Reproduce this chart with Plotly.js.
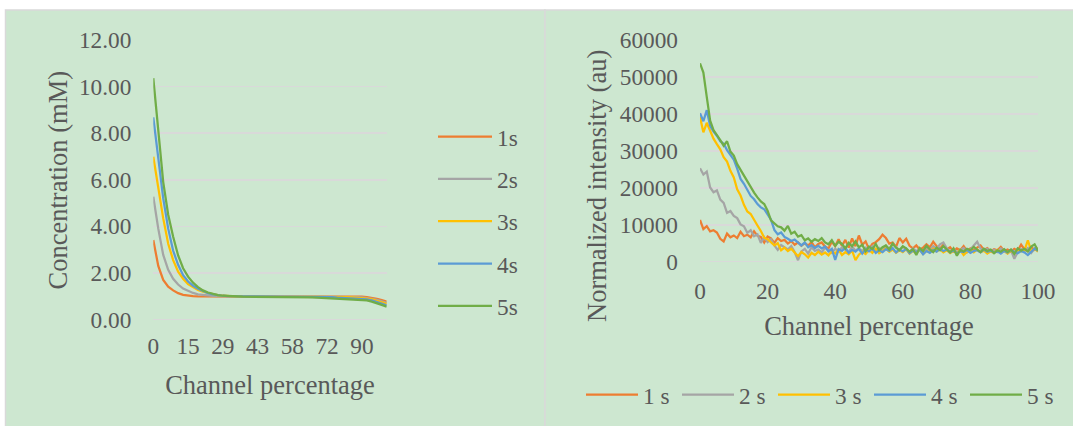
<!DOCTYPE html>
<html>
<head>
<meta charset="utf-8">
<script src="https://cdn.plot.ly/plotly-3.0.1.min.js"></script>
<style>
html,body{margin:0;padding:0;background:#ffffff;}
#chart{width:1073px;height:426px;}
</style>
</head>
<body>
<div id="chart"></div>
<script>
// ---------- Left chart: concentration profiles (category axis) ----------
const channelPctLeft = ['0','2','4','6','9','11','13','15','17','19','21','23','25','27','29','31','33','35','37','39','41','43','45','47','49','52','54','56','58','60','62','64','66','68','70','72','75','77','80','82','85','87','90','92','94','96','98','100'];
const leftTickLabels = ['0','15','29','43','58','72','90'];
const seriesNamesLeft = ['1s','2s','3s','4s','5s'];

const conc1s = [3.41,2.30,1.70,1.41,1.25,1.13,1.06,1.02,1.00,
  0.99,0.99,0.99,0.99,0.99,0.99,0.99,0.99,0.99,0.99,0.99,0.99,0.99,0.99,0.99,0.99,0.99,0.99,0.99,0.99,0.99,0.99,0.99,0.99,0.99,0.99,0.99,0.99,
  1.00,1.00,1.00,1.00,
  0.99,0.98,0.96,0.93,0.89,0.83,0.77];
const conc2s = [5.27,3.90,2.77,2.13,1.75,1.50,1.33,1.22,1.14,1.08,1.05,1.03,1.01,1.00,
  0.99,0.99,0.99,0.99,0.99,0.99,0.99,0.99,0.99,0.99,0.99,0.99,0.99,0.99,0.99,0.99,
  0.98,0.98,0.98,0.98,0.98,0.98,0.98,0.98,
  0.97,0.97,0.96,0.96,0.95,0.93,0.89,0.84,0.78,0.72];
const conc3s = [6.99,5.60,4.34,3.25,2.55,2.05,1.75,1.52,1.38,1.27,1.19,1.13,1.09,1.05,1.02,1.00,
  0.99,0.99,0.99,0.99,0.99,0.99,0.99,0.99,0.99,
  0.98,0.98,0.98,0.98,0.98,0.98,0.98,
  0.97,0.97,0.97,0.97,0.97,
  0.96,0.96,0.96,
  0.95,0.94,0.92,0.90,0.86,0.81,0.74,0.67];
const conc4s = [8.68,6.90,5.20,3.90,2.95,2.35,1.90,1.63,1.45,1.32,1.21,1.13,1.08,1.04,1.02,1.00,
  0.99,0.99,0.99,0.99,0.99,0.99,
  0.98,0.98,0.98,0.98,0.98,0.98,
  0.97,0.97,0.97,0.97,0.97,
  0.96,0.96,0.96,0.96,
  0.94,0.93,0.92,0.91,0.90,0.89,0.86,0.82,0.76,0.69,0.61];
const conc5s = [10.36,8.00,5.90,4.50,3.55,2.75,2.20,1.84,1.58,1.39,1.25,1.16,1.10,1.05,1.02,1.00,
  0.99,0.99,0.98,0.98,0.98,
  0.97,0.97,0.97,0.97,0.97,
  0.96,0.96,0.96,0.96,
  0.95,0.95,0.95,
  0.94,0.93,0.92,
  0.91,0.91,0.90,0.89,
  0.88,0.87,0.85,0.82,0.77,0.71,0.63,0.55];

// ---------- Right chart: normalized intensity ----------
const channelPctRight = [0,1,2,3,4,5,6,7,8,9,10,11,12,13,14,15,16,17,18,19,20,21,22,23,24,25,26,27,28,29,30,31,32,33,34,35,36,37,38,39,40,41,42,43,44,45,46,47,48,49,50,51,52,53,54,55,56,57,58,59,60,61,62,63,64,65,66,67,68,69,70,71,72,73,74,75,76,77,78,79,80,81,82,83,84,85,86,87,88,89,90,91,92,93,94,95,96,97,98,99,100];
const seriesNamesRight = ['1 s','2 s','3 s','4 s','5 s'];

const int1s = [11300,8800,9600,8200,8500,7900,6200,5500,7600,6600,7100,6400,8100,6900,7300,6600,8200,7000,6700,5200,6800,6300,5100,6400,5600,5900,4900,5600,4600,5200,4300,5000,4400,5300,3900,4800,5200,4100,3600,5400,4200,6100,4300,5900,3800,6300,4200,7100,4600,5500,3400,4800,5300,6100,7300,6400,4900,5200,4000,6400,5200,6200,4300,3600,4400,3300,3800,4700,3900,5400,4200,3500,4600,3300,3900,2800,3600,3100,4200,2900,3600,3000,3800,4400,3200,3700,2800,3400,3100,4000,2900,3300,2700,3500,3000,4600,3300,2800,3900,3200,3600];
const int2s = [25300,23600,24400,20100,18800,19300,16800,15900,13200,13700,12400,11800,10100,9600,7800,8500,6900,7400,5100,6600,5300,6100,4400,3200,4500,3800,3300,4200,2600,400,2800,3500,2200,3900,2900,3300,2500,3800,3100,2400,3500,2800,3900,3300,2600,4100,3000,3600,2900,3800,3300,4200,3100,3700,2800,4300,3500,4800,3900,3100,4000,3400,2700,3600,2900,3300,2400,3700,3100,4200,3400,4700,5200,3600,2800,3400,2600,3100,3700,2500,3300,4400,5400,3600,3000,3500,2700,3200,2600,3600,2900,2300,3100,800,2600,3400,2900,3700,2400,3500,3000];
const int3s = [39200,35000,37600,35200,33300,31800,30400,28300,27100,24600,22800,19600,17900,15400,13600,12900,11200,9800,8300,6500,6100,5200,4400,5000,3100,3800,2900,3500,2400,1500,2600,2000,1100,2400,1800,2700,1900,2500,1700,2900,2200,3300,1800,2600,2000,3000,400,1900,2700,2100,3200,2400,3500,2300,2900,3600,2700,3300,2400,3100,2600,3400,2200,2900,2500,3200,2100,3000,2600,3500,2800,3300,2500,3100,2300,2900,2400,3200,1800,2700,3100,2500,3300,2600,3000,2200,2800,2400,3200,2500,2900,2200,3000,2600,3300,2800,3100,5800,2900,3500,2700];
const int4s = [40200,38000,41000,36800,35200,34100,32600,31900,30200,28900,27600,25200,22400,21100,19300,17800,16900,15600,14700,14200,12800,11400,8600,7400,7900,6700,6200,5600,6000,5100,4400,5200,3900,4500,3700,4300,3600,4100,2800,3500,500,3400,2900,3800,2400,3200,2700,3500,2200,3400,2800,3600,2400,3100,2600,3400,2900,3700,2500,3300,2800,3500,2300,3000,2600,3300,2000,2900,2400,3200,2700,3500,2900,3300,2500,3000,2300,2800,2600,3200,2400,2900,3100,2500,3300,2700,3000,2400,2800,2200,2900,2500,3200,2700,2300,2900,2500,1800,2700,3600,2900];
const int5s = [53700,51200,44600,38200,35600,34400,32900,31400,32600,29800,28700,26400,24800,23200,21600,20300,18700,17400,16300,15600,13800,11200,10300,9600,9300,8400,9700,7600,8100,6800,7200,5800,6300,5400,6100,5600,6400,5200,4700,5800,4300,5400,4800,3600,5100,4200,5500,3900,4600,2800,4100,3400,4800,3100,3900,4400,3300,4900,3800,3100,4200,3600,2700,3400,1800,3700,2900,4300,3300,2600,3800,3100,4200,3300,2500,3600,1600,3200,2700,3500,3100,4000,3200,2600,3500,2900,3300,2300,3100,2700,3400,2600,3300,2100,3600,3000,3500,2800,4100,4700,3000];

const seriesColors = ['#ED7D31','#A5A5A5','#FFC000','#5B9BD5','#70AD47'];

const FONT = 'Liberation Serif';
const TXT = '#595959';
const GRID = '#D9D9D9';
const BG = '#CDE7D0';

const concSeries = [conc1s, conc2s, conc3s, conc4s, conc5s];
const intSeries = [int1s, int2s, int3s, int4s, int5s];

const traces = [];
concSeries.forEach((ys, k) => {
  traces.push({
    type: 'scatter', mode: 'lines',
    x: channelPctLeft, y: ys, name: seriesNamesLeft[k],
    xaxis: 'x', yaxis: 'y',
    line: {color: seriesColors[k], width: 2.25},
    legend: 'legend', legendgroup: 'L' + k,
    hoverinfo: 'skip'
  });
});
intSeries.forEach((ys, k) => {
  traces.push({
    type: 'scatter', mode: 'lines',
    x: channelPctRight, y: ys, name: seriesNamesRight[k],
    xaxis: 'x2', yaxis: 'y2',
    line: {color: seriesColors[k], width: 2.25},
    legend: 'legend2',
    hoverinfo: 'skip'
  });
});

const W = 1073, H = 426;
const px = v => v / W;
const py = v => 1 - v / H;

const tickFont = {family: FONT, size: 23.3, color: TXT};
const titleFont = {family: FONT, size: 26.5, color: TXT};

const layout = {
  width: W, height: H,
  margin: {l: 0, r: 0, t: 0, b: 0},
  paper_bgcolor: '#ffffff',
  plot_bgcolor: 'rgba(0,0,0,0)',
  font: {family: FONT, color: TXT},
  showlegend: true,
  shapes: [
    {type: 'rect', xref: 'paper', yref: 'paper', layer: 'below',
     x0: px(5.5), x1: px(545), y0: py(430), y1: py(10),
     fillcolor: BG, line: {color: GRID, width: 1.5}},
    {type: 'rect', xref: 'paper', yref: 'paper', layer: 'below',
     x0: px(545), x1: px(1080), y0: py(430), y1: py(10),
     fillcolor: BG, line: {color: GRID, width: 1.5}}
  ],
  xaxis: {
    domain: [px(153.3), px(386.7)], anchor: 'y',
    type: 'category', range: [0, channelPctLeft.length - 1],
    tickmode: 'array', tickvals: leftTickLabels, ticktext: leftTickLabels,
    showgrid: false, zeroline: false, showline: false, ticks: '',
    tickfont: tickFont, ticklabelstandoff: 10,
    title: {text: 'Channel percentage', font: titleFont, standoff: 17}
  },
  yaxis: {
    domain: [py(319.5), py(40)], anchor: 'x',
    range: [0, 12], dtick: 2, tickformat: '.2f',
    showgrid: true, gridcolor: GRID, gridwidth: 1.5,
    zeroline: true, zerolinecolor: GRID, zerolinewidth: 1.5,
    showline: false, ticks: '',
    tickfont: tickFont, ticklabelstandoff: 21
  },
  xaxis2: {
    domain: [px(700), px(1038)], anchor: 'y2',
    range: [0, 100], dtick: 20,
    showgrid: false, zeroline: false, showline: false, ticks: '',
    tickfont: tickFont, ticklabelstandoff: 13,
    title: {text: 'Channel percentage', font: titleFont, standoff: 13}
  },
  yaxis2: {
    domain: [py(261.7), py(40)], anchor: 'x2',
    range: [0, 60000], dtick: 10000, tickformat: 'd',
    showgrid: true, gridcolor: GRID, gridwidth: 1.5,
    zeroline: true, zerolinecolor: GRID, zerolinewidth: 1.5,
    showline: false, ticks: '',
    tickfont: tickFont, ticklabelstandoff: 21
  },
  legend: {
    x: px(433), y: py(115), xanchor: 'left', yanchor: 'top',
    bgcolor: 'rgba(0,0,0,0)', font: tickFont,
    itemwidth: 54, tracegroupgap: 9, traceorder: 'grouped'
  },
  legend2: {
    orientation: 'h',
    x: px(581), y: py(373), xanchor: 'left', yanchor: 'top',
    bgcolor: 'rgba(0,0,0,0)', font: tickFont,
    itemwidth: 52, entrywidth: 29
  },
  annotations: [
    {text: 'Concentration (mM)', xref: 'paper', yref: 'paper',
     x: px(57.5), y: py(180), textangle: -90, showarrow: false,
     xanchor: 'center', yanchor: 'middle', font: titleFont},
    {text: 'Normalized intensity (au)', xref: 'paper', yref: 'paper',
     x: px(597), y: py(186), textangle: -90, showarrow: false,
     xanchor: 'center', yanchor: 'middle', font: titleFont}
  ]
};

Plotly.newPlot('chart', traces, layout, {staticPlot: true, displayModeBar: false});
</script>
</body>
</html>
